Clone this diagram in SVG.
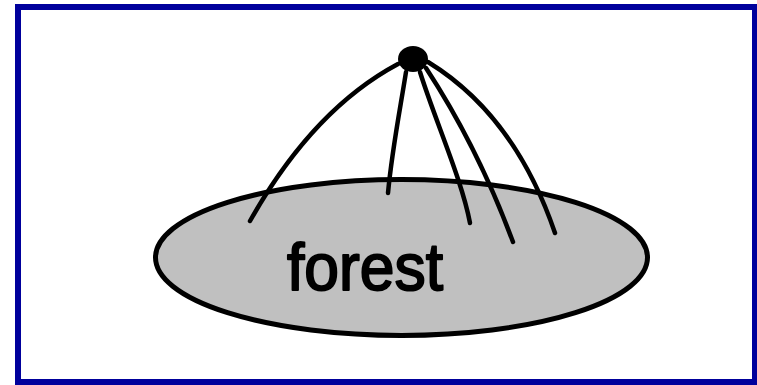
<svg xmlns="http://www.w3.org/2000/svg" width="757" height="385" viewBox="0 0 757 385">
<style>
.conn{fill:none;stroke:#000;stroke-width:4.5;stroke-linecap:round;stroke-linejoin:round}
.lbl{font-family:"Liberation Sans",Arial,sans-serif;font-size:66px;fill:#000;stroke:#000;stroke-width:2;stroke-linejoin:round}
</style>
<rect x="18" y="7" width="737" height="375" fill="#fff" stroke="#00009c" stroke-width="6"/>
<g id="forest">
<ellipse cx="401.5" cy="257.5" rx="246" ry="78" fill="#c0c0c0" stroke="#000" stroke-width="5"/>
<text class="lbl" x="287" y="290" textLength="156" lengthAdjust="spacingAndGlyphs">forest</text>
</g>
<g id="connectors">
<path class="conn" d="M398,64 C340,95 290,150 250,221"/>
<path class="conn" d="M406,72 C400,110 392,150 388,193"/>
<path class="conn" d="M420,72 C435,120 462,180 470,223"/>
<path class="conn" d="M426,68 C460,120 490,180 513,242"/>
<path class="conn" d="M428,62 C490,100 530,160 555,233"/>
</g>
<g id="root">
<ellipse cx="413" cy="59" rx="15" ry="13" fill="#000"/>
</g>
</svg>
